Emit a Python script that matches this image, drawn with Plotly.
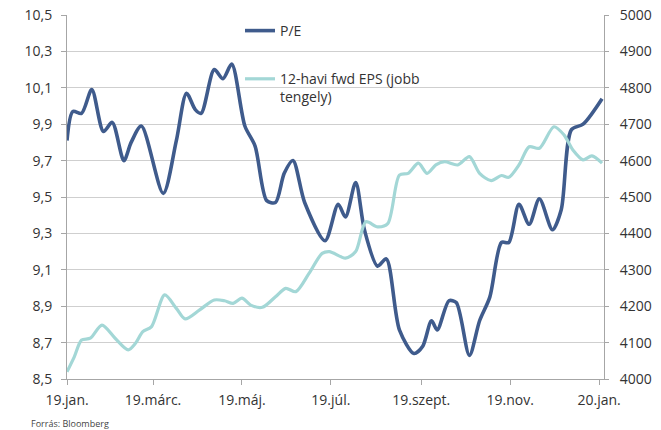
import plotly.graph_objects as go

# P/E (left axis)
pe_dates = ["2019-01-01", "2019-01-05", "2019-01-11", "2019-01-18", "2019-01-26", "2019-02-01",
            "2019-02-09", "2019-02-14", "2019-02-21", "2019-03-08", "2019-03-17", "2019-03-24",
            "2019-03-30", "2019-04-03", "2019-04-12", "2019-04-18", "2019-04-24", "2019-05-03",
            "2019-05-10", "2019-05-18", "2019-05-24", "2019-05-30", "2019-06-05", "2019-06-13",
            "2019-06-27", "2019-07-06", "2019-07-11", "2019-07-18", "2019-07-24", "2019-08-02",
            "2019-08-08", "2019-08-17", "2019-08-27", "2019-09-02", "2019-09-08", "2019-09-12",
            "2019-09-20", "2019-09-25", "2019-10-04", "2019-10-11", "2019-10-18", "2019-10-26",
            "2019-10-31", "2019-11-07", "2019-11-14", "2019-11-21", "2019-11-30", "2019-12-06",
            "2019-12-13", "2019-12-21", "2020-01-03"]
pe_values = [9.81, 9.97, 9.96, 10.09, 9.86, 9.91, 9.70, 9.80, 9.89, 9.52, 9.81, 10.07,
             9.98, 9.96, 10.20, 10.15, 10.23, 9.89, 9.78, 9.48, 9.47, 9.63, 9.70, 9.47,
             9.26, 9.46, 9.39, 9.58, 9.32, 9.12, 9.16, 8.77, 8.64, 8.68, 8.82, 8.77,
             8.93, 8.92, 8.63, 8.82, 8.95, 9.25, 9.25, 9.46, 9.35, 9.49, 9.32, 9.43,
             9.87, 9.90, 10.04]

# 12-month forward EPS (right axis)
eps_dates = ["2019-01-01", "2019-01-06", "2019-01-11", "2019-01-17", "2019-01-25", "2019-02-03",
             "2019-02-12", "2019-02-17", "2019-02-22", "2019-02-28", "2019-03-09", "2019-03-17",
             "2019-03-23", "2019-04-02", "2019-04-12", "2019-04-19", "2019-04-25", "2019-05-01",
             "2019-05-07", "2019-05-15", "2019-05-24", "2019-05-31", "2019-06-07", "2019-06-16",
             "2019-06-25", "2019-06-30", "2019-07-11", "2019-07-18", "2019-07-25", "2019-08-02",
             "2019-08-09", "2019-08-17", "2019-08-23", "2019-08-30", "2019-09-05", "2019-09-11",
             "2019-09-17", "2019-09-26", "2019-10-04", "2019-10-11", "2019-10-19", "2019-10-26",
             "2019-10-31", "2019-11-07", "2019-11-14", "2019-11-21", "2019-12-01", "2019-12-08",
             "2019-12-14", "2019-12-21", "2019-12-27", "2020-01-03"]
eps_values = [4020, 4061, 4107, 4112, 4148, 4112, 4080, 4098, 4130, 4144, 4231, 4194,
              4165, 4190, 4217, 4215, 4208, 4222, 4203, 4197, 4226, 4249, 4240, 4290,
              4345, 4350, 4332, 4350, 4432, 4418, 4427, 4560, 4565, 4593, 4565, 4588,
              4597, 4588, 4611, 4565, 4545, 4559, 4554, 4588, 4638, 4634, 4693, 4670,
              4629, 4602, 4613, 4593]

x_tickvals = ["2019-01-01", "2019-03-01", "2019-05-01", "2019-07-01", "2019-09-01", "2019-11-01", "2020-01-01"]
x_ticktext = ["19.jan.", "19.márc.", "19.máj.", "19.júl.", "19.szept.", "19.nov.", "20.jan."]

FONT = "Open Sans"
TXT = "#333333"
AXIS = "#a6a6a6"
GRID = "#cfcfcf"

PW, PH = 537, 364  # plot area: x 67..604, y 15..379

fig = go.Figure()
fig.add_trace(go.Scatter(
    x=eps_dates, y=eps_values, yaxis="y2", mode="lines",
    name="12-havi fwd EPS (jobb<br>tengely)",
    line=dict(color="#a3d7d6", width=3.2, shape="spline", smoothing=0.8),
    legendrank=2, legendgroup="eps"))
fig.add_trace(go.Scatter(
    x=pe_dates, y=pe_values, mode="lines", name="P/E",
    line=dict(color="#3f5b8c", width=3.6, shape="spline", smoothing=0.8),
    legendrank=1, legendgroup="pe"))

fig.update_layout(
    width=661, height=430,
    margin=dict(l=67, r=57, t=15, b=51, autoexpand=False),
    paper_bgcolor="white", plot_bgcolor="white",
    separators=", ",
    font=dict(family=FONT, size=14, color=TXT),
    showlegend=True,
    legend=dict(x=(240 - 67) / PW, y=1.0, xanchor="left", yanchor="top",
                bgcolor="rgba(0,0,0,0)", traceorder="grouped", tracegroupgap=27,
                valign="top", font=dict(family=FONT, size=14, color=TXT)),
    xaxis=dict(type="date", range=["2019-01-01", "2020-01-04 08:00"],
               tickmode="array", tickvals=x_tickvals, ticktext=x_ticktext,
               showgrid=False, showline=True, linecolor=AXIS, linewidth=1,
               ticks="outside", ticklen=5, tickcolor=AXIS, ticklabelstandoff=3,
               automargin=False, ticklabeloverflow="allow",
               tickfont=dict(family=FONT, size=14, color=TXT), zeroline=False),
    yaxis=dict(range=[8.5, 10.5], tick0=8.5, dtick=0.2, tickformat=".1f",
               showgrid=True, gridcolor=GRID, gridwidth=1,
               showline=True, linecolor=AXIS, linewidth=1,
               ticks="outside", ticklen=5, tickcolor=AXIS, ticklabelstandoff=6,
               automargin=False, ticklabeloverflow="allow",
               tickfont=dict(family=FONT, size=14, color=TXT), zeroline=False),
    yaxis2=dict(range=[4000, 5000], tick0=4000, dtick=100, overlaying="y", side="right",
                showgrid=False, showline=True, linecolor=AXIS, linewidth=1,
                ticks="outside", ticklen=4, tickcolor=AXIS, ticklabelstandoff=8,
                tickformat="d", automargin=False, ticklabeloverflow="allow",
                tickfont=dict(family=FONT, size=14, color=TXT), zeroline=False),
    annotations=[dict(text="Forrás: Bloomberg", xref="paper", yref="paper",
                      x=-38 / PW, y=-44 / PH, xanchor="left", yanchor="middle",
                      showarrow=False, font=dict(family=FONT, size=9, color="#444444"))],
)

# remove the browser's default 8px page margin so the figure fills the window
fig.write_html("out.html", config={"displayModeBar": False},
               post_script="document.body.style.margin='0';")
